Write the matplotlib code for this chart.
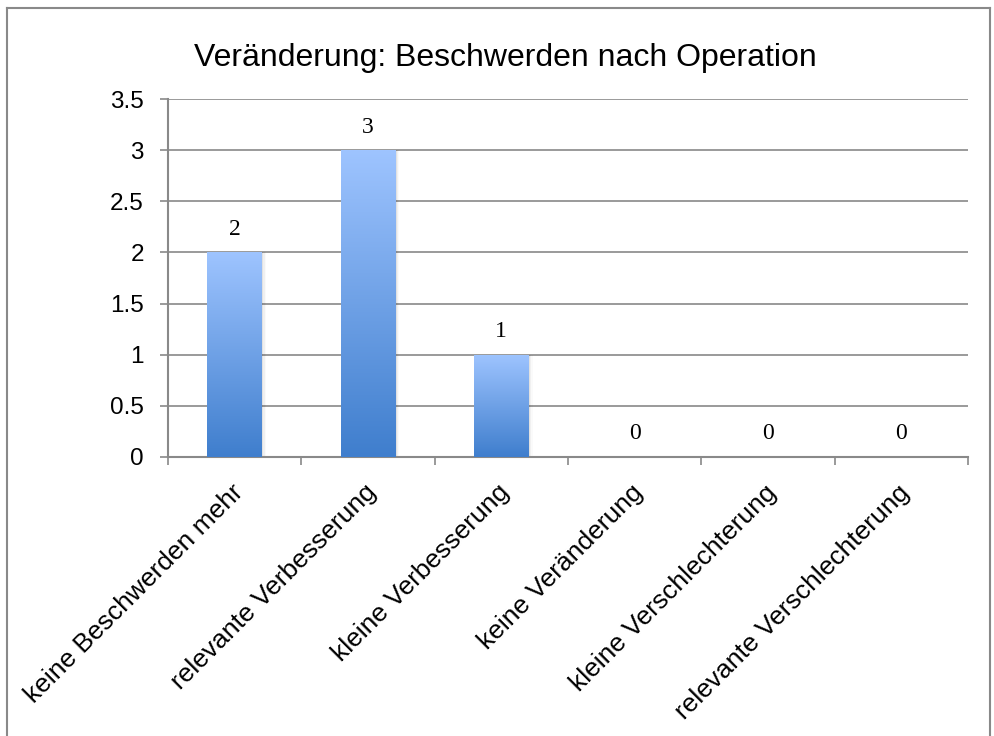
import matplotlib
matplotlib.use("Agg")
import matplotlib.pyplot as plt
import numpy as np
from matplotlib.colors import LinearSegmentedColormap
from matplotlib.patches import Rectangle
from matplotlib.lines import Line2D

categories = ["keine Beschwerden mehr", "relevante Verbesserung", "kleine Verbesserung",
              "keine Veränderung", "kleine Verschlechterung", "relevante Verschlechterung"]
values = [2, 3, 1, 0, 0, 0]
yticks = [0, 0.5, 1, 1.5, 2, 2.5, 3, 3.5]
ytick_labels = ["0", "0.5", "1", "1.5", "2", "2.5", "3", "3.5"]
title = "Veränderung: Beschwerden nach Operation"

W, H = 994, 736
fig = plt.figure(figsize=(W / 100, H / 100), dpi=100)
fig.patch.set_facecolor("white")

# axes position in pixels
left, right, top, bottom = 168, 968, 99.3, 456.7
ax = fig.add_axes([left / W, 1 - bottom / H, (right - left) / W, (bottom - top) / H])

n = len(categories)
ax.set_xlim(0, n)
ax.set_ylim(0, 3.5)

gray = "#898989"
for s in ["top", "right"]:
    ax.spines[s].set_visible(False)
for s in ["left", "bottom"]:
    ax.spines[s].set_color(gray)
    ax.spines[s].set_linewidth(1.5)

ax.set_yticks(yticks)
ax.set_yticklabels(ytick_labels, fontfamily="Liberation Sans", fontsize=17.5)
ax.yaxis.grid(True, color=gray, linewidth=1.2)
ax.set_axisbelow(True)

ax.set_xticks(np.arange(0, n + 1))
ax.set_xticklabels([])
ax.tick_params(axis="both", direction="out", length=5.8, width=1.2, color=gray)
ax.tick_params(axis="y", pad=11.5)

cmap = LinearSegmentedColormap.from_list("g", ["#3F7ECD", "#9EC4FF"])
grad = np.linspace(0, 1, 256).reshape(-1, 1)
bw = 0.41
for i, v in enumerate(values):
    c = i + 0.5
    if v > 0:
        # soft shadow
        for k, a in enumerate([0.06, 0.04, 0.02]):
            sh = Rectangle((c - bw / 2 + 0.01 * (k + 1), 0), bw, v, facecolor="black",
                           alpha=a, edgecolor="none", zorder=2)
            ax.add_patch(sh)
        rect = Rectangle((c - bw / 2, 0), bw, v, facecolor="none", edgecolor="none", zorder=3)
        ax.add_patch(rect)
        im = ax.imshow(grad, cmap=cmap, origin="lower", aspect="auto",
                       extent=[c - bw / 2, c + bw / 2, 0, v], zorder=3)
        im.set_clip_path(rect)
    ax.annotate(str(v), (c, v), xytext=(0, 12.5), textcoords="offset points",
                ha="center", va="baseline", fontsize=17, fontfamily="Liberation Serif",
                color="black")

ax.set_xlim(0, n)
ax.set_ylim(0, 3.5)

for i, cat in enumerate(categories):
    ax.text(i + 0.5 - 0.03, -0.23, cat, rotation=45, ha="right", va="top",
            rotation_mode="anchor", fontsize=19, fontfamily="Liberation Sans",
            transform=ax.transData, clip_on=False)

fig.text(505 / W, 1 - 58 / H, title, ha="center", va="center",
         fontsize=23, fontfamily="Liberation Sans")

# outer border (left, top, right)
bx0, by0, bx1 = 7 / W, 1 - 8 / H, 990 / W
fig.add_artist(Line2D([bx0, bx0], [0, by0], color=gray, linewidth=1.5, transform=fig.transFigure))
fig.add_artist(Line2D([bx0, bx1], [by0, by0], color=gray, linewidth=1.5, transform=fig.transFigure))
fig.add_artist(Line2D([bx1, bx1], [0, by0], color=gray, linewidth=1.5, transform=fig.transFigure))

fig.savefig("out.png", dpi=100)
